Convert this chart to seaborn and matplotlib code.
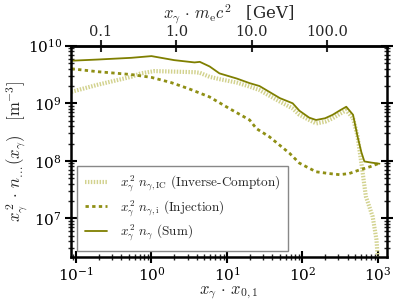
import numpy as np
import pandas as pd
import matplotlib
matplotlib.use("Agg")
import matplotlib.pyplot as plt
import seaborn as sns
from matplotlib.ticker import LogLocator, FixedLocator, FixedFormatter, NullLocator, NullFormatter

sns.set_theme(style="ticks")
plt.rcParams['font.family'] = ['DejaVu Serif']
plt.rcParams['mathtext.fontset'] = 'cm'

# log10 of x and y values
x_sum = [-1.06, -0.72, -0.27, 0.0, 0.3, 0.57, 0.64, 0.77, 0.90, 1.13, 1.30, 1.43, 1.70, 1.87, 1.96, 2.09, 2.18, 2.30, 2.40, 2.50, 2.58, 2.67, 2.73, 2.78, 2.82, 2.91, 3.02]
y_sum = [9.74, 9.76, 9.79, 9.82, 9.75, 9.71, 9.72, 9.64, 9.52, 9.43, 9.35, 9.30, 9.09, 9.00, 8.87, 8.75, 8.71, 8.74, 8.80, 8.88, 8.94, 8.80, 8.42, 8.15, 7.99, 7.97, 7.95]

x_inj = [-1.06, -0.72, -0.27, 0.0, 0.26, 0.50, 0.77, 1.03, 1.30, 1.39, 1.56, 1.83, 1.96, 2.18, 2.35, 2.49, 2.62, 2.75, 2.90, 3.02]
y_inj = [9.60, 9.55, 9.50, 9.45, 9.36, 9.25, 9.11, 8.91, 8.71, 8.56, 8.42, 8.13, 7.96, 7.81, 7.78, 7.76, 7.78, 7.84, 7.90, 7.96]

x_ic = [-1.06, -0.72, -0.27, -0.14, 0.04, 0.57, 0.64, 0.77, 0.90, 1.13, 1.30, 1.43, 1.70, 1.87, 1.96, 2.09, 2.18, 2.30, 2.40, 2.50, 2.58, 2.67, 2.73, 2.78, 2.84, 2.93, 2.98, 3.01]
y_ic = [9.20, 9.32, 9.46, 9.52, 9.56, 9.54, 9.53, 9.46, 9.42, 9.36, 9.29, 9.23, 9.03, 8.91, 8.80, 8.71, 8.65, 8.68, 8.74, 8.82, 8.88, 8.74, 8.42, 7.96, 7.38, 7.03, 6.63, 6.10]

labels = [r'$x_\gamma^{\,2}\;n_{\gamma,\mathrm{IC}}$ (Inverse-Compton)',
          r'$x_\gamma^{\,2}\;n_{\gamma,\mathrm{i}}$ (Injection)',
          r'$x_\gamma^{\,2}\;n_{\gamma}$ (Sum)']

top_ticks = [0.1, 1.0, 10.0, 100.0]
top_labels = ['0.1', '1.0', '10.0', '100.0']

fig = plt.figure(figsize=(3.99, 3.07), dpi=100)
ax = fig.add_axes([0.178, 0.163, 0.792, 0.688])

df_ic = pd.DataFrame({'x': 10**np.array(x_ic), 'y': 10**np.array(y_ic)})
df_inj = pd.DataFrame({'x': 10**np.array(x_inj), 'y': 10**np.array(y_inj)})
df_sum = pd.DataFrame({'x': 10**np.array(x_sum), 'y': 10**np.array(y_sum)})

sns.lineplot(data=df_ic, x='x', y='y', ax=ax, color='#d2d28e', lw=3.0,
             linestyle=(0, (0.35, 0.35)), label=labels[0], sort=False)
sns.lineplot(data=df_inj, x='x', y='y', ax=ax, color='#8f8f14', lw=2.0,
             linestyle=(0, (1.2, 1.2)), label=labels[1], sort=False)
sns.lineplot(data=df_sum, x='x', y='y', ax=ax, color='#7f7f00', lw=1.3,
             label=labels[2], sort=False)

ax.set_xscale('log')
ax.set_yscale('log')
ax.set_xlim(10**-1.066, 10**3.12)
ax.set_ylim(10**6.33, 1e10)

ax.set_xlabel(r'$x_\gamma\,\cdot\,x_{0,1}$', fontsize=12, labelpad=0)
ax.set_ylabel(r'$x_\gamma^{\,2}\,\cdot\,n_{\ldots}(x_\gamma)\quad[\mathrm{m}^{-3}]$', fontsize=12)
ax.yaxis.set_label_coords(-0.13, 0.5)

for s in ax.spines.values():
    s.set_linewidth(1.8)
    s.set_color('black')

ax.xaxis.set_major_locator(LogLocator(base=10, numticks=10))
ax.xaxis.set_minor_locator(LogLocator(base=10, subs=np.arange(2, 10), numticks=20))
ax.yaxis.set_major_locator(LogLocator(base=10, numticks=10))
ax.yaxis.set_minor_locator(LogLocator(base=10, subs=np.arange(2, 10), numticks=20))
ax.xaxis.set_minor_formatter(NullFormatter())
ax.yaxis.set_minor_formatter(NullFormatter())
ax.tick_params(axis='both', which='major', direction='inout', length=9, width=1.5,
               labelsize=11, colors='black')
ax.tick_params(axis='both', which='minor', direction='inout', length=5, width=1.0)
ax.tick_params(axis='y', which='both', right=True, left=True, pad=2)
ax.tick_params(axis='x', which='both', top=False, pad=2)

factor = 0.467
sec = ax.secondary_xaxis('top', functions=(lambda v: v * factor, lambda v: v / factor))
sec.xaxis.set_major_locator(FixedLocator(top_ticks))
sec.xaxis.set_major_formatter(FixedFormatter(top_labels))
sec.xaxis.set_minor_locator(NullLocator())
sec.tick_params(direction='inout', length=9, width=1.5, labelsize=10.5, pad=0)
sec.spines['top'].set_linewidth(1.8)
sec.set_xlabel(r'$x_\gamma\,\cdot\,m_{\mathrm{e}}c^2\quad$[GeV]', fontsize=12, labelpad=5)

leg = ax.legend(loc='lower left', bbox_to_anchor=(0.02, 0.03), borderaxespad=0,
                prop={'family': 'cmr10', 'size': 9.5},
                frameon=True, fancybox=False, edgecolor='#888888', framealpha=1,
                handlelength=1.7, handletextpad=1.0, borderpad=0.55, labelspacing=0.3)
leg.get_frame().set_linewidth(1.0)

fig.savefig('out.png', dpi=100)
